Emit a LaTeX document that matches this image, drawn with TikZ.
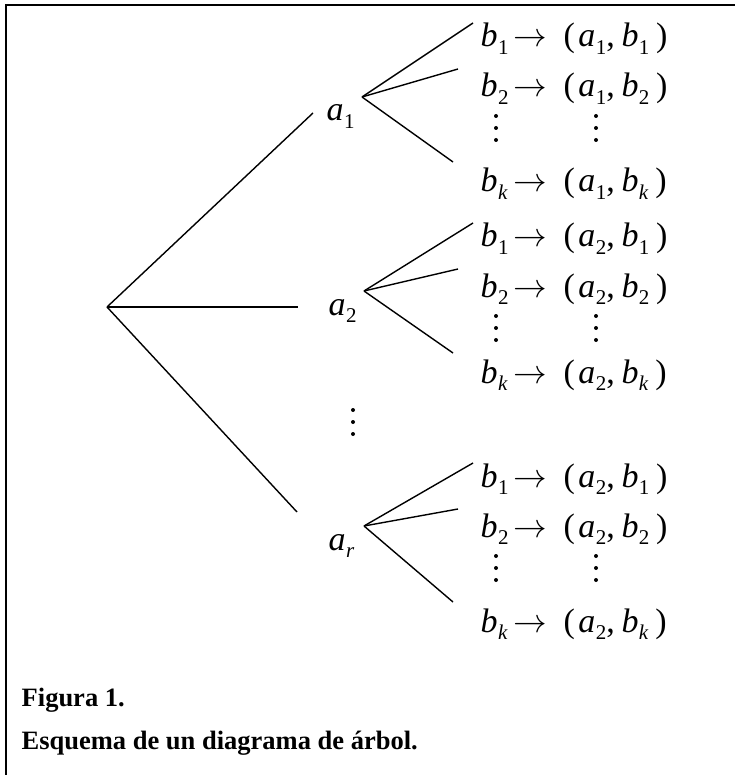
\documentclass[tikz,border=0pt]{standalone}
\usepackage{fontspec}
\setmainfont{Liberation Serif}
\usepackage{graphicx}
\usepackage{tikz}
\usetikzlibrary{calc,positioning}
% italic letter with index, set in the text font
\newcommand\msub[2]{\textit{#1}\kern0.01em\raisebox{-0.22em}{\fontsize{21}{24}\selectfont #2}}
\newcommand\mpair[2]{(\kern0.1em\msub{a}{#1},\kern0.2em\msub{b}{#2}\kern0.2em)}
\newcommand\longto{\scalebox{1.35}{$\rightarrow$}}

\begin{document}
\begin{tikzpicture}[x=1pt,y=-1pt,line width=1.4pt,
  mlbl/.style={inner sep=0pt,anchor=base west,font=\fontsize{34}{40}\selectfont},
  caplbl/.style={inner sep=0pt,anchor=base west,font=\fontsize{26.5}{30}\selectfont\bfseries}]
\useasboundingbox (0,0) rectangle (735,775);
% frame, only top and left edge fall inside the page
\draw[line width=2pt] (6,775) -- (6,5) -- (735,5);

% first level
\coordinate (root) at (107,307);
\node[mlbl] (a1) at (326,121) {\msub{a}{1}};
\node[mlbl] (a2) at (328,315) {\msub{a}{2}};
\node[mlbl] (a3) at (328,550) {\msub{a}{\textit{r}}};
\draw (root) -- ($(a1.base west)+(-13,-8)$);
\draw (root) -- ($(a2.base west)+(-30,-8)$);
\draw (root) -- ($(a3.base west)+(-31,-38)$);
\foreach \d in {410,422,434} \fill (353,\d) circle (2pt);

% second level, group g starts at baseline y, pairs use a_p
\foreach \g/\y/\k/\p in {1/47/145/1,2/247/136/2,3/487/145/2}{
  \coordinate (o\g) at ($(a\g.base west)+(36,-24)$);
  \node[mlbl] (b\g1) at (480,\y) {\msub{b}{1}};
  \node[mlbl] (b\g2) at (480,\y+50) {\msub{b}{2}};
  \node[mlbl] (b\g3) at (480,\y+\k) {\msub{b}{\textit{k}}};
  \node[mlbl,anchor=base] (t\g1) at (530,\y) {\longto};
  \node[mlbl,anchor=base] (t\g2) at (530,\y+50) {\longto};
  \node[mlbl,anchor=base] (t\g3) at (530,\y+\k) {\longto};
  \node[mlbl] (p\g1) at (563,\y) {\mpair{\p}{1}};
  \node[mlbl] (p\g2) at (563,\y+50) {\mpair{\p}{2}};
  \node[mlbl] (p\g3) at (563,\y+\k) {\mpair{\p}{\textit{k}}};
  \draw (o\g) -- ($(b\g1.base west)+(-7,-24)$);
  \draw (o\g) -- ($(b\g2.base west)+(-22,-28)$);
  \draw (o\g) -- ($(b\g3.base west)+(-27,-30)$);
  \foreach \d in {69,81,93}{
    \fill (496,\y+\d) circle (2pt);
    \fill (596,\y+\d) circle (2pt);
  }
}

\node[caplbl] (fig) at (21,706) {Figura 1.};
\node[caplbl] (cap) at ($(fig.base west)+(0,43)$) {Esquema de un diagrama de árbol.};
\end{tikzpicture}
\end{document}
